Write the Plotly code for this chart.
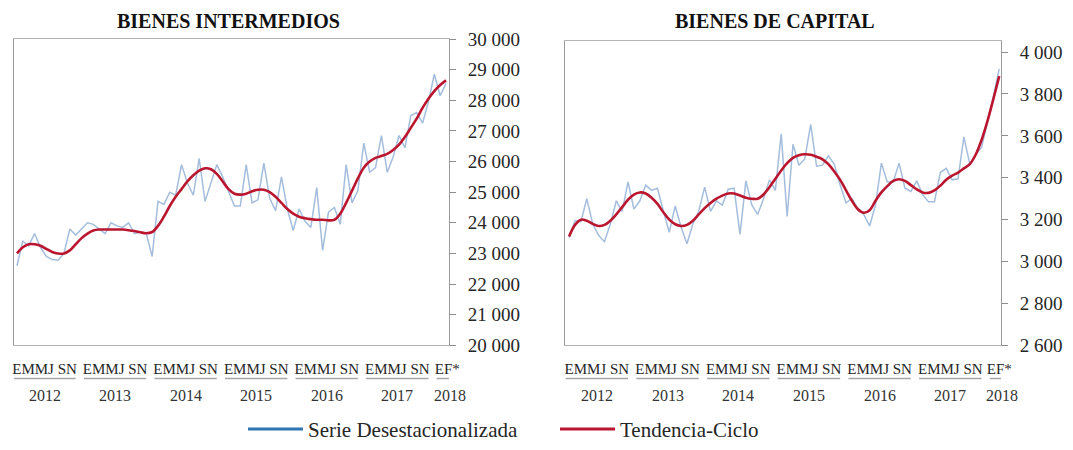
"""
Bienes intermedios y bienes de capital, 2012 - feb 2018.
Serie desestacionalizada y tendencia-ciclo, dos paneles con eje a la derecha.
"""

import plotly.graph_objects as go

# Datos (mensuales, ene 2012 - feb 2018)
ANIOS = [2012, 2013, 2014, 2015, 2016, 2017, 2018]
MESES_POR_ANIO = [12, 12, 12, 12, 12, 12, 2]
ETIQ_MESES = ["EMMJ SN", "EMMJ SN", "EMMJ SN", "EMMJ SN", "EMMJ SN", "EMMJ SN", "EF*"]

INTER_DESEST = [
    22600, 23400, 23250, 23650, 23200, 22900, 22800, 22780, 23000, 23800, 23600, 23800,
    24000, 23950, 23800, 23650, 24000, 23900, 23850, 24000, 23650, 23700, 23650, 22900,
    24700, 24600, 25000, 24900, 25900, 25300, 24900, 26100, 24700, 25300, 25900, 25500,
    25000, 24550, 24550, 25900, 24650, 24750, 25950, 24800, 24400, 25500, 24450, 23750,
    24450, 24050, 23850, 25150, 23100, 24350, 24500, 23950, 25900, 24650, 25050, 26600,
    25650, 25800, 26850, 25650, 26150, 26850, 26450, 27500, 27600, 27250, 27950, 28850,
    28150, 28550,
]
INTER_TEND = [
    23000, 23200, 23300, 23300, 23250, 23150, 23050, 23000, 23000, 23100, 23300, 23500,
    23650, 23750, 23780, 23780, 23780, 23780, 23780, 23760, 23730, 23690, 23660, 23700,
    23900, 24200, 24550, 24850, 25100, 25350, 25550, 25700, 25780, 25750, 25600, 25350,
    25100, 24950, 24920, 24950, 25030, 25080, 25080, 25000, 24850, 24650, 24450, 24300,
    24200, 24150, 24120, 24100, 24100, 24080, 24100, 24300, 24650, 25050, 25450, 25800,
    26000, 26120, 26180, 26250, 26380, 26550, 26800, 27100, 27400, 27750, 28050, 28300,
    28500, 28650,
]

CAP_DESEST = [
    3115, 3195, 3190, 3300, 3180, 3125, 3095, 3180, 3290, 3240, 3380, 3250,
    3290, 3365, 3340, 3350, 3240, 3140, 3265, 3165, 3085, 3180, 3240, 3355,
    3240, 3290, 3270, 3345, 3350, 3130, 3385, 3270, 3225, 3300, 3390, 3340,
    3610, 3215, 3560, 3460, 3490, 3655, 3455, 3460, 3505, 3465, 3365, 3280,
    3300, 3255, 3225, 3170, 3270, 3470, 3380, 3380, 3470, 3350, 3335, 3385,
    3320, 3285, 3285, 3425, 3445, 3390, 3395, 3595, 3465, 3510, 3545, 3660,
    3790, 3920,
]
CAP_TEND = [
    3120, 3175, 3200, 3195, 3180, 3170, 3175, 3195, 3225, 3260, 3295, 3320,
    3330, 3325, 3305, 3275, 3235, 3200, 3178, 3170, 3175, 3195, 3225, 3255,
    3280, 3300, 3315, 3325, 3325, 3315, 3305, 3300, 3300, 3320, 3355, 3395,
    3435, 3470, 3495, 3508, 3512, 3510, 3500, 3488, 3465, 3430, 3390, 3340,
    3290, 3250, 3233, 3245, 3290, 3330, 3360, 3385, 3393, 3385, 3365, 3345,
    3330, 3328, 3340, 3362, 3390, 3410, 3425, 3445, 3465, 3510, 3580, 3670,
    3775, 3885,
]

SERIE = "Serie Desestacionalizada"
TENDENCIA = "Tendencia-Ciclo"

AZUL_CLARO = "#a4bddc"
AZUL = "#2e75b6"
ROJO = "#bb1630"
GRIS = "#a6a6a6"
FUENTE = "Liberation Serif"


def agregar_panel(fig, n, titulo, x_titulo, desest, tend, rango_x, rango_y, dtick,
                  dominio_x, dominio_y):
    """Agrega un panel: traces, ejes, subrayado de anios y titulo."""
    sx = "" if n == 1 else str(n)
    meses = list(range(len(desest)))

    fig.add_trace(go.Scatter(
        x=meses, y=desest, xaxis="x" + sx, yaxis="y" + sx, mode="lines",
        line=dict(color=AZUL_CLARO, width=1.5), showlegend=False, name=SERIE,
    ))
    fig.add_trace(go.Scatter(
        x=meses, y=tend, xaxis="x" + sx, yaxis="y" + sx, mode="lines",
        line=dict(color=ROJO, width=2.6, shape="spline"), showlegend=False, name=TENDENCIA,
    ))

    # Etiquetas de meses por anio, con linea y anio debajo
    centros = []
    inicio = 0
    for anio, n_meses in zip(ANIOS, MESES_POR_ANIO):
        x0 = inicio - 0.6
        x1 = inicio + 10.0 if n_meses == 12 else inicio + 3.0
        centro = min((x0 + x1) / 2, rango_x[1] - 0.3)
        centros.append(centro)
        fig.add_shape(
            type="line", xref="x" + sx, yref="paper", x0=x0, x1=x1,
            y0=1 - 388 / 450, y1=1 - 388 / 450, line=dict(color=GRIS, width=1.5),
        )
        fig.add_annotation(
            x=centro, y=1 - 405 / 450, xref="x" + sx, yref="paper",
            text=str(anio), showarrow=False, yanchor="middle",
            xshift=3 if n_meses < 12 else 0,
            font=dict(family=FUENTE, size=16, color="#333333"),
        )
        inicio += n_meses

    eje_x = dict(
        domain=dominio_x, anchor="y" + sx, range=rango_x,
        showgrid=False, zeroline=False, showline=True, mirror=True,
        linecolor="#b4b4b4", linewidth=1,
        tickmode="array", tickvals=centros, ticktext=ETIQ_MESES, ticks="",
        tickangle=0, tickfont=dict(family=FUENTE, size=15, color="#262626"),
        ticklabelstandoff=10,
    )
    eje_y = dict(
        domain=dominio_y, anchor="x" + sx, side="right", range=rango_y,
        tick0=rango_y[0], dtick=dtick, tickformat=",d",
        showgrid=False, zeroline=False, showline=True, mirror=True,
        linecolor="#9a9a9a", linewidth=1,
        ticks="outside", ticklen=6, tickcolor="#8c8c8c",
        tickfont=dict(family=FUENTE, size=19, color="#262626"),
        ticklabelstandoff=8,
    )
    fig.update_layout({"xaxis" + sx: eje_x, "yaxis" + sx: eje_y})

    fig.add_annotation(
        x=x_titulo, y=1 - 22 / 450, xref="paper", yref="paper",
        text="<b>" + titulo + "</b>", showarrow=False,
        xanchor="center", yanchor="middle",
        font=dict(family=FUENTE, size=20, color="#111111"),
    )


fig = go.Figure()

agregar_panel(
    fig, 1, "BIENES INTERMEDIOS", 228 / 1073, INTER_DESEST, INTER_TEND,
    [-0.5, 73.5], [20000, 30000], 1000,
    [14 / 1073, 449 / 1073], [1 - 354 / 450, 1 - 40 / 450],
)
agregar_panel(
    fig, 2, "BIENES DE CAPITAL", 775 / 1073, CAP_DESEST, CAP_TEND,
    [-0.7, 73.3], [2600, 4053], 200,
    [565 / 1073, 1001 / 1073], [1 - 354 / 450, 1 - 42 / 450],
)

# Entradas de leyenda (solo leyenda, sin datos)
fig.add_trace(go.Scatter(x=[None], y=[None], mode="lines", name=SERIE,
                         line=dict(color=AZUL, width=3)))
fig.add_trace(go.Scatter(x=[None], y=[None], mode="lines", name=TENDENCIA,
                         line=dict(color=ROJO, width=3)))

fig.update_layout(
    template="none",
    width=1073, height=450,
    margin=dict(l=0, r=0, t=0, b=0),
    paper_bgcolor="white", plot_bgcolor="white",
    separators=", ",
    font=dict(family=FUENTE, size=15, color="#262626"),
    showlegend=True,
    legend=dict(
        orientation="h", x=243 / 1073, xanchor="left", y=1 - 440 / 450, yanchor="middle",
        font=dict(family=FUENTE, size=21, color="#262626"),
        itemwidth=55, entrywidth=242, entrywidthmode="pixels",
        bgcolor="rgba(0,0,0,0)",
    ),
)

# figura fija en la esquina de la ventana (sin margen del body ni scroll)
ajuste = (
    "document.body.style.margin = '0px';"
    "var gd = document.getElementById('{plot_id}');"
    "gd.style.position = 'fixed'; gd.style.left = '0px'; gd.style.top = '0px';"
)
fig.write_html("out.html", config={"displayModeBar": False}, post_script=ajuste)
